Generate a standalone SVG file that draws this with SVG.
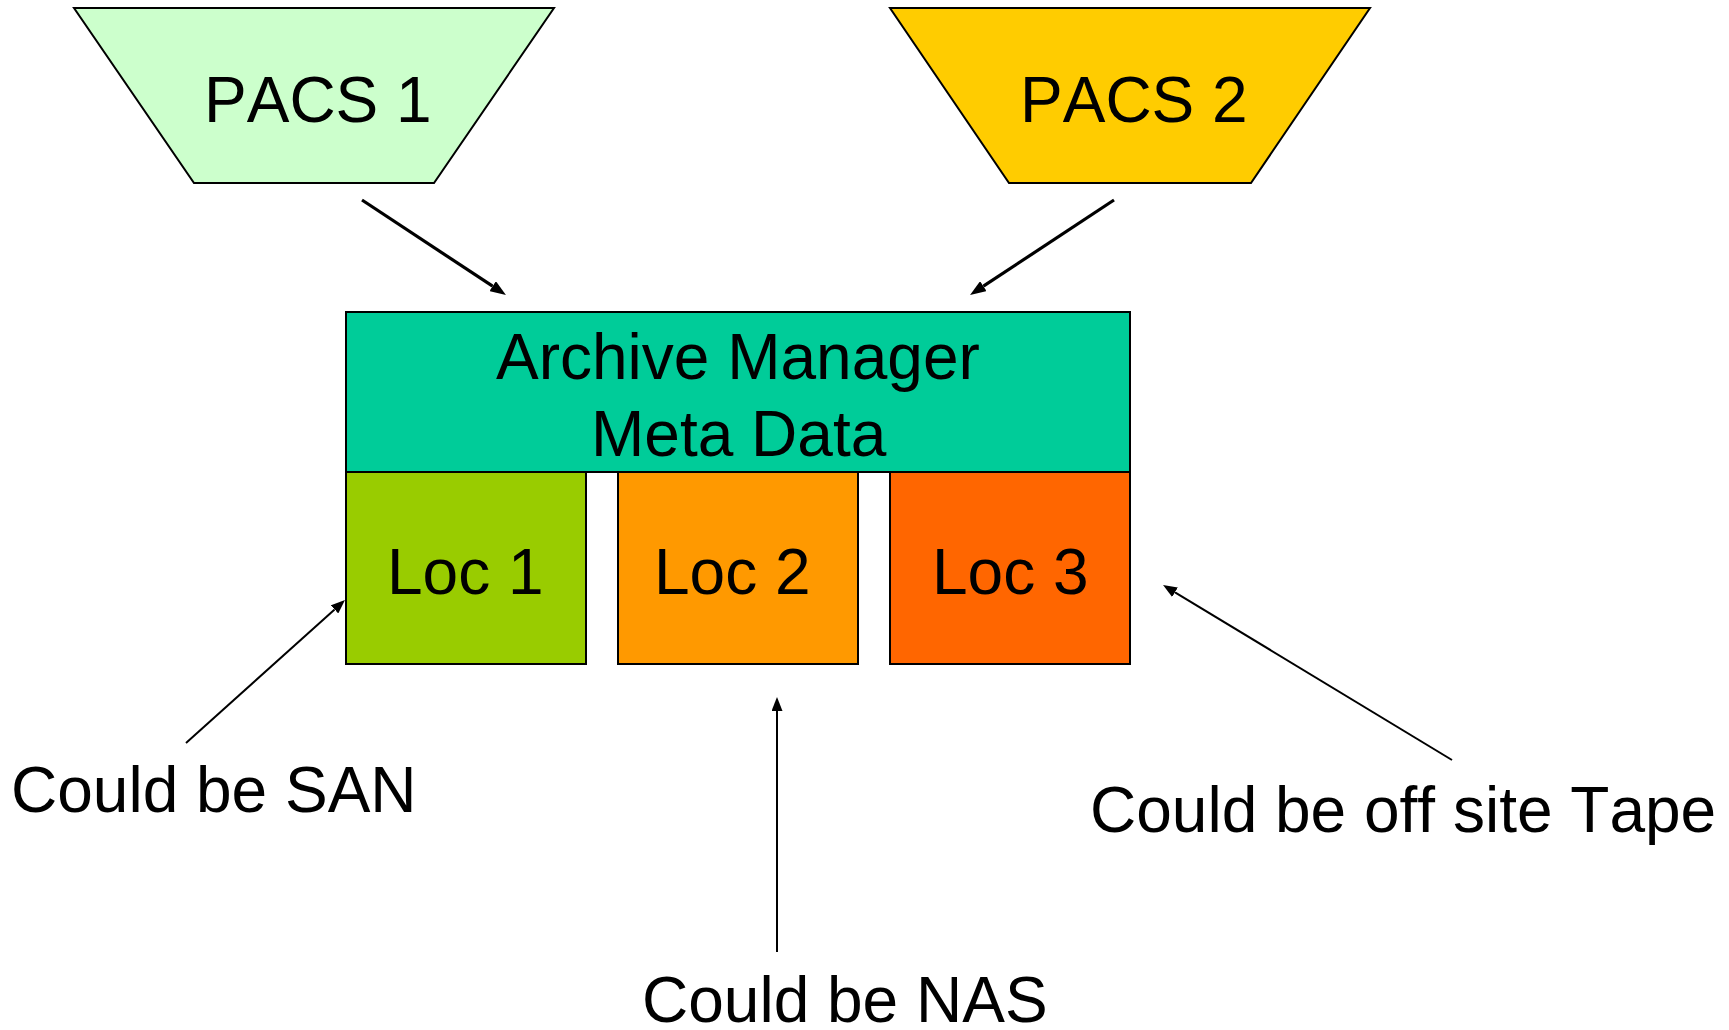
<svg xmlns="http://www.w3.org/2000/svg" width="1729" height="1030" viewBox="0 0 1729 1030">
  <style>
    .shape { stroke: #000; stroke-width: 2; }
    .lbl { font-family: "Liberation Sans", Arial, sans-serif; font-size: 64px; fill: #000; font-kerning: none; font-variant-ligatures: none; }
    .wire { stroke: #000; fill: none; }
    .thick { stroke-width: 3.2; }
    .thin { stroke-width: 2; }
  </style>
  <defs>
    <marker id="headBig" viewBox="0 0 16 12" refX="0" refY="6" markerWidth="16" markerHeight="12" markerUnits="userSpaceOnUse" orient="auto">
      <path d="M0,0 L16,6 L0,12 z" fill="#000"/>
    </marker>
    <marker id="headSmall" viewBox="0 0 14 11" refX="0" refY="5.5" markerWidth="14" markerHeight="11" markerUnits="userSpaceOnUse" orient="auto">
      <path d="M0,0 L14,5.5 L0,11 z" fill="#000"/>
    </marker>
  </defs>

  <rect width="1729" height="1030" fill="#fff"/>

  <!-- PACS sources -->
  <g id="pacs1">
    <polygon class="shape" points="74,8 554,8 434,183 194,183" fill="#CCFFCC"/>
    <text class="lbl" x="204" y="122">PACS 1</text>
  </g>
  <g id="pacs2">
    <polygon class="shape" points="890,8 1370,8 1251,183 1009,183" fill="#FFCC00"/>
    <text class="lbl" x="1020" y="122">PACS 2</text>
  </g>

  <!-- archive manager with its storage locations -->
  <g id="archive-manager">
    <rect class="shape" x="346" y="312" width="784" height="160" fill="#00CC99"/>
    <text class="lbl" x="496" y="379">Archive Manager</text>
    <text class="lbl" x="591" y="456">Meta Data</text>
  </g>
  <g id="loc1">
    <rect class="shape" x="346" y="472" width="240" height="192" fill="#99CC00"/>
    <text class="lbl" x="387" y="594">Loc 1</text>
  </g>
  <g id="loc2">
    <rect class="shape" x="618" y="472" width="240" height="192" fill="#FF9900"/>
    <text class="lbl" x="654" y="594">Loc 2</text>
  </g>
  <g id="loc3">
    <rect class="shape" x="890" y="472" width="240" height="192" fill="#FF6600"/>
    <text class="lbl" x="932" y="594">Loc 3</text>
  </g>

  <!-- storage notes -->
  <g id="note-san">
    <text class="lbl" x="11" y="812">Could be SAN</text>
  </g>
  <g id="note-nas">
    <text class="lbl" x="642" y="1022">Could be NAS</text>
  </g>
  <g id="note-tape">
    <text class="lbl" x="1090" y="832">Could be off site Tape</text>
  </g>

  <!-- connectors -->
  <g id="connectors">
    <line class="wire thick" x1="362" y1="200" x2="492.6" y2="286.2" marker-end="url(#headBig)"/>
    <line class="wire thick" x1="1114" y1="200" x2="983.4" y2="286.2" marker-end="url(#headBig)"/>
    <line class="wire thin" x1="186" y1="743" x2="334.6" y2="609.4" marker-end="url(#headSmall)"/>
    <line class="wire thin" x1="777" y1="952" x2="777" y2="711" marker-end="url(#headSmall)"/>
    <line class="wire thin" x1="1452" y1="760" x2="1175" y2="592.3" marker-end="url(#headSmall)"/>
  </g>
</svg>
